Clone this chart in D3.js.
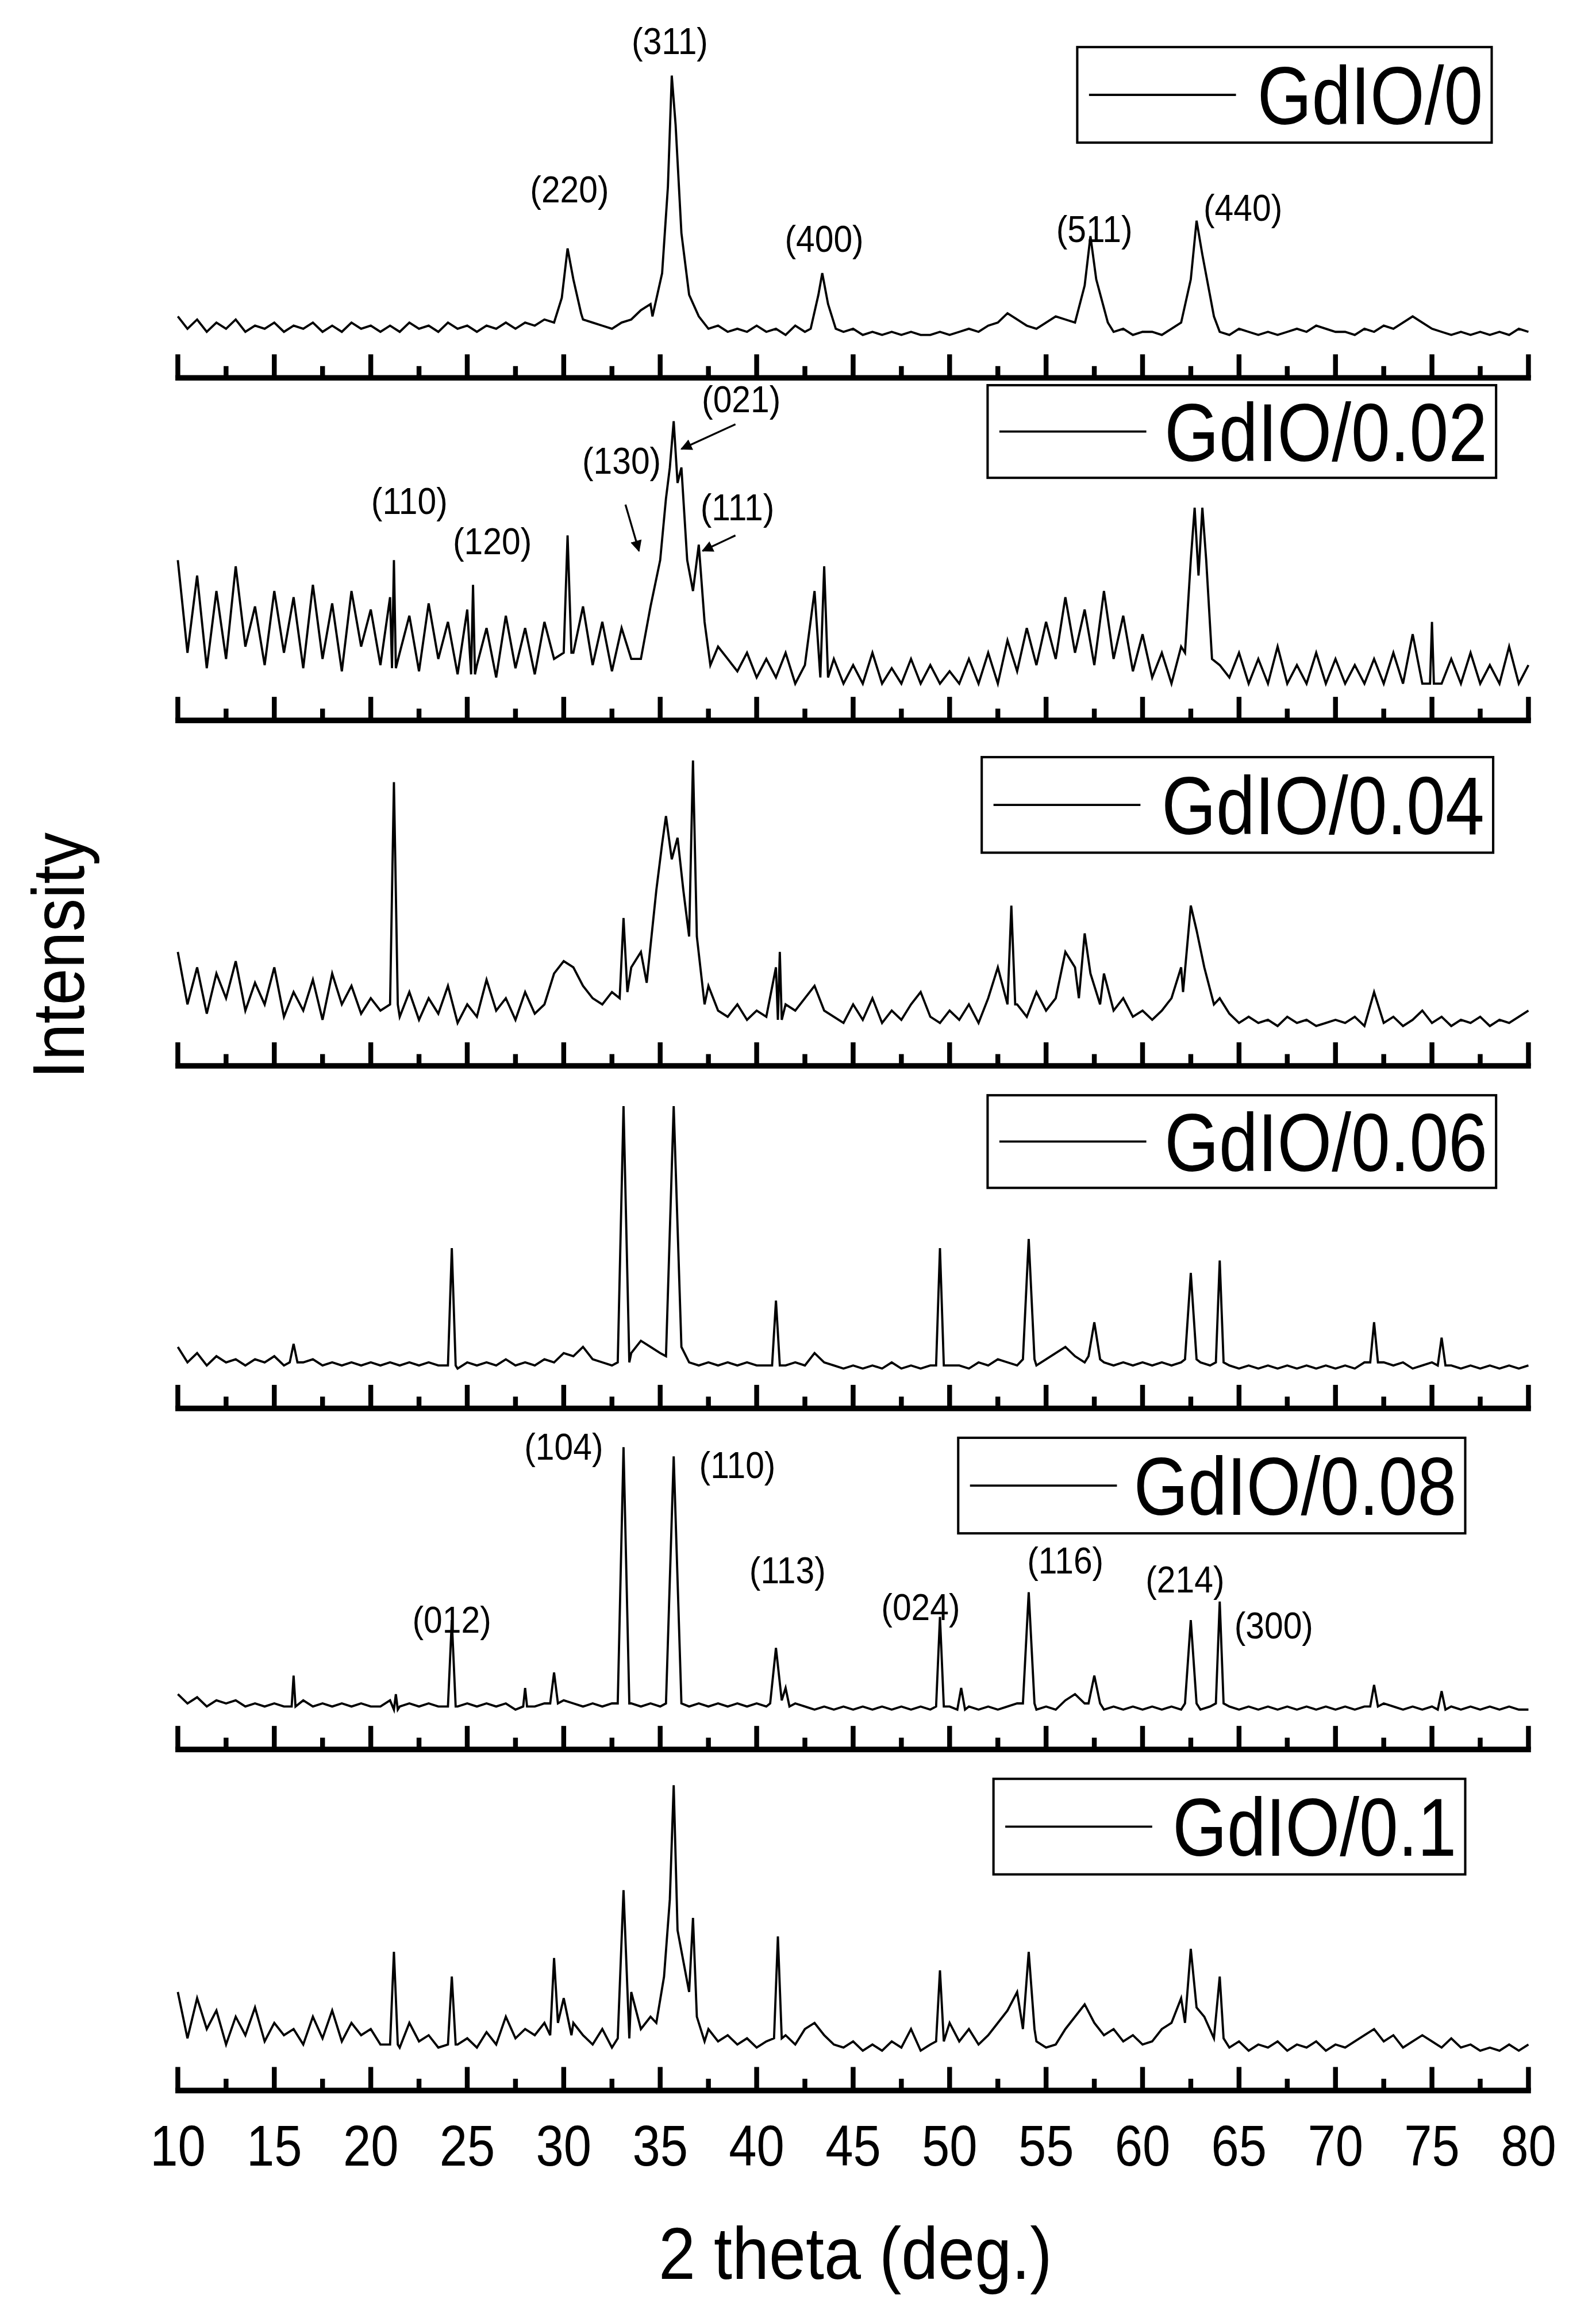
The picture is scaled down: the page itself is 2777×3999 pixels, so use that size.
<!DOCTYPE html>
<html>
<head>
<meta charset="utf-8">
<script src="https://cdn.jsdelivr.net/npm/d3@7"></script>
<style>
body { margin: 0; background: #fff; }
text { font-family: "Liberation Sans", Arial, sans-serif; fill: #000; }
</style>
</head>
<body>
<svg id="chart"></svg>
<script>
// background profile, 10..80 step 0.5
var bg1 = [8,4,7,3,6,4,7,3,5,4,6,3,5,4,6,3,5,3,6,4,5,
    3,5,3,6,4,5,3,6,4,5,3,5,4,6,4,6,5,7,6,5,
    9,7,6,5,4,6,7,10,12,9,6,5,4,6,4,5,3,4,3,5,
    3,4,2,5,3,6,8,5,3,4,2,3,2,3,2,3,2,2,3,2,
    3,4,3,5,6,9,7,5,4,6,8,7,5,4,3,5,3,4,2,3,
    3,2,4,5,8,7,4,3,2,4,3,2,3,2,3,4,3,5,4,3,
    3,2,4,3,5,4,6,8,6,4,3,2,3,2,3,2,3,2,4,3];
var bg2 = [40,10,35,5,30,8,38,12,25,6,30,10,28,5,32,8,26,4,30,12,24,
    6,28,10,22,4,26,8,20,3,24,6,18,2,22,5,18,3,20,8,30,
    10,25,6,20,4,18,8,28,30,40,45,40,30,25,20,12,8,4,10,2,
    8,2,10,0,6,30,4,8,0,6,0,10,0,5,0,8,0,6,0,4,
    0,8,0,10,0,14,4,18,6,20,8,28,10,24,6,30,8,22,4,16,
    2,10,0,12,8,20,10,6,2,10,0,8,0,12,0,6,0,10,0,8,
    0,6,0,8,0,10,0,16,0,6,0,8,0,10,0,6,0,12,0,6];
var bg3 = [25,8,20,5,18,10,22,6,15,8,20,4,12,6,16,3,18,8,14,5,10,
    6,8,4,12,3,10,5,14,2,8,4,16,6,10,3,12,5,8,18,22,
    20,14,10,8,12,30,20,25,30,40,50,45,40,25,14,6,4,8,3,6,
    4,20,8,6,10,14,6,4,2,8,3,10,2,6,3,8,12,4,2,6,
    3,8,2,10,20,15,8,4,12,6,10,25,20,14,8,18,6,10,4,6,
    3,6,10,20,25,30,20,10,5,2,4,2,3,1,4,2,3,1,2,3,
    2,4,1,12,2,4,1,3,6,2,4,1,3,2,4,1,3,2,4,6];
var bg4 = [8,3,6,2,5,3,4,2,4,3,5,2,8,3,4,2,3,2,3,2,3,
    2,3,2,3,2,3,2,3,1,3,2,3,2,4,2,3,2,4,3,6,
    5,8,4,3,2,4,6,10,8,6,5,4,3,2,3,2,3,2,3,2,
    2,3,2,3,2,6,3,2,1,2,1,2,1,3,1,2,1,2,1,2,
    2,1,3,2,4,3,2,3,2,4,6,8,5,3,2,3,2,3,2,3,
    2,3,2,3,2,3,2,3,2,1,2,1,2,1,2,1,2,1,2,1,
    2,1,3,2,3,2,3,1,2,3,4,2,1,2,1,2,1,2,1,2];
var bg5 = [6,3,5,2,4,3,4,2,3,2,3,2,3,4,2,3,2,3,2,3,2,
    2,4,2,3,2,3,2,3,2,3,2,3,2,3,1,6,2,3,3,4,
    3,2,3,2,3,2,3,2,3,2,3,2,2,3,2,3,2,3,2,3,
    2,3,6,3,2,1,2,1,2,1,2,1,2,1,2,1,2,1,3,2,
    3,2,1,2,1,2,3,2,1,2,1,4,6,3,2,1,2,1,2,1,
    2,1,2,1,2,1,2,1,2,1,2,1,2,1,2,1,2,1,2,1,
    2,1,2,1,3,2,1,2,1,2,4,2,1,2,1,2,1,2,1,1];
var bg6 = [20,5,18,8,14,3,12,6,15,4,10,6,8,3,12,5,14,4,10,6,8,
    3,8,2,10,4,6,2,8,3,5,2,7,3,12,5,8,6,10,8,14,
    10,6,3,8,2,10,20,8,12,20,30,25,15,10,8,4,6,3,5,2,
    4,2,6,3,8,10,6,3,2,4,1,3,1,4,2,8,1,3,6,10,
    4,8,3,6,10,14,20,8,4,2,3,8,12,16,10,6,8,4,6,3,
    4,8,10,18,20,15,10,4,2,4,1,3,2,4,1,3,2,4,1,3,
    2,4,6,8,4,6,2,4,6,4,2,5,2,3,1,2,1,3,1,3];

// peak points [2theta, intensity]
var pk1 = [
    [[29.5,6],[29.9,14],[30.2,30],[30.5,20],[30.9,9]],
    [[34.6,8],[35.1,22],[35.4,50],[35.6,86],[35.8,70],[36.1,35],[36.5,15],[37,8]],
    [[42.8,4],[43.2,15],[43.4,22],[43.7,12],[44.1,4]],
    [[56.5,6],[57,18],[57.3,34],[57.6,20],[58.2,6]],
    [[62,6],[62.5,20],[62.8,39],[63.1,28],[63.7,8]]];
var pk2 = [
    [[21.1,5],[21.2,40],[21.3,5]],
    [[25.2,3],[25.3,32],[25.4,3]],
    [[30,10],[30.2,48],[30.4,10]],
    [[34,8],[34.5,25],[35,40],[35.3,60],[35.5,70],[35.7,85],[35.9,65],[36.1,70],[36.4,40],[36.7,30],[37,45],[37.3,20],[37.6,6]],
    [[43.3,2],[43.5,38],[43.7,2]],
    [[62.2,10],[62.5,40],[62.7,57],[62.9,35],[63.1,57],[63.3,40],[63.6,8]],
    [[74.9,0],[75,20],[75.1,0]]];
var pk3 = [
    [[21,8],[21.2,80],[21.4,8]],
    [[32.9,10],[33.1,36],[33.3,12]],
    [[34.3,15],[34.8,45],[35.1,60],[35.3,69],[35.6,55],[35.9,62],[36.2,45],[36.5,30],[36.7,87],[36.9,30],[37.3,8]],
    [[41.1,3],[41.2,25],[41.3,3]],
    [[53,8],[53.2,40],[53.4,8]],
    [[56.7,10],[57,31],[57.3,18],[57.8,8]],
    [[62.1,12],[62.5,40],[62.8,32],[63.2,20],[63.7,8]]];
var pk4 = [
    [[15.8,3],[16,9],[16.2,3]],
    [[24,2],[24.2,40],[24.4,2]],
    [[32.8,3],[33.1,86],[33.4,3]],
    [[35.3,5],[35.7,86],[36.1,8]],
    [[40.8,2],[41,23],[41.2,2]],
    [[49.3,2],[49.5,40],[49.7,2]],
    [[53.8,4],[54.1,43],[54.4,4]],
    [[57.2,5],[57.5,16],[57.8,4]],
    [[62.2,4],[62.5,32],[62.8,4]],
    [[63.8,3],[64,36],[64.2,3]],
    [[71.8,3],[72,16],[72.2,3]],
    [[75.3,2],[75.5,11],[75.7,2]]];
var pk5 = [
    [[15.9,2],[16,12],[16.1,2]],
    [[21.2,1],[21.3,6],[21.4,1]],
    [[24,2],[24.2,30],[24.4,2]],
    [[27.9,2],[28,8],[28.1,2]],
    [[29.3,3],[29.5,13],[29.7,3]],
    [[32.8,3],[33.1,86],[33.4,3]],
    [[35.3,3],[35.7,83],[36.1,3]],
    [[40.7,3],[41,21],[41.3,4],[41.5,8],[41.7,2]],
    [[49.3,2],[49.5,31],[49.7,2]],
    [[50.4,1],[50.6,8],[50.8,1]],
    [[53.8,3],[54.1,39],[54.4,3]],
    [[57.2,3],[57.5,12],[57.8,3]],
    [[62.2,3],[62.5,30],[62.8,3]],
    [[63.8,3],[64,36],[64.2,3]],
    [[71.8,2],[72,9],[72.2,2]],
    [[75.3,1],[75.5,7],[75.7,1]]];
var pk6 = [
    [[21,3],[21.2,33],[21.4,3]],
    [[24,3],[24.2,25],[24.4,3]],
    [[29.3,6],[29.5,31],[29.7,10],[30,18],[30.4,6]],
    [[32.8,5],[33.1,53],[33.4,5]],
    [[34.8,10],[35.2,25],[35.5,50],[35.7,87],[35.9,40],[36.2,30],[36.5,20],[36.7,44],[36.9,12],[37.3,4]],
    [[40.9,5],[41.1,38],[41.3,5]],
    [[49.3,4],[49.5,27],[49.7,4]],
    [[53.8,8],[54.1,33],[54.4,8]],
    [[62.2,10],[62.5,34],[62.8,15],[63.2,12],[63.7,5],[64,25],[64.2,5]]];

var names = ["GdIO/0", "GdIO/0.02", "GdIO/0.04", "GdIO/0.06", "GdIO/0.08", "GdIO/0.1"];
var backgrounds = [bg1, bg2, bg3, bg4, bg5, bg6];
var peaks = [pk1, pk2, pk3, pk4, pk5, pk6];
var xTicks = d3.range(10, 81, 5);

// hkl labels: [panel, text, 2theta, intensity]
var labels = [
    [0,"(311)",35.5,93],[0,"(220)",30.3,45],[0,"(400)",43.5,29],[0,"(511)",57.5,32],[0,"(440)",65.2,39],
    [1,"(021)",39.2,88],[1,"(130)",33.0,68],[1,"(110)",22.0,55],[1,"(120)",26.3,42],[1,"(111)",39.0,53],
    [4,"(104)",30.0,82],[4,"(110)",39.0,76],[4,"(113)",41.6,42],[4,"(024)",48.5,30],[4,"(116)",56.0,45],
    [4,"(214)",62.2,39],[4,"(012)",24.2,26],[4,"(300)",66.8,24]];
// arrows: [panel, from 2theta, from intensity, to 2theta, to intensity]
var arrowList = [[1,38.9,84,36.1,76],[1,38.9,48,37.2,43],[1,33.2,58,33.9,43]];

var W = 1080, H = 1555.2;
var svg = d3.select("#chart")
    .attr("width", 2777).attr("height", 3999)
    .attr("viewBox", "0 0 " + W + " " + H);
var root = svg.append("g").attr("transform", "scale(0.9945)");

var x = d3.scaleLinear().domain([10, 80]).range([121, 1040]);
var axisY = [257, 490, 725, 958, 1190, 1422];
var legendBox = [[733,32,282,65],[672,262,346,63],[668,515,348,65],[672,745,346,63],[652,978,345,65],[676,1210,321,65]];

function addText(parent, tx, ty, str, size, sx, anchor) {
    return parent.append("text")
        .attr("transform", "translate(" + tx + "," + ty + ") scale(" + sx + ",1)")
        .attr("text-anchor", anchor || "middle").attr("font-size", size).text(str);
}

function buildSeries(bg, pk) {
    var pts = [];
    var ranges = pk.map(function (p) { return [p[0][0], p[p.length - 1][0]]; });
    bg.forEach(function (v, i) {
        var t = 10 + i * 0.5;
        var inside = ranges.some(function (r) { return t >= r[0] && t <= r[1]; });
        if (!inside) pts.push([t, v]);
    });
    pk.forEach(function (p) { p.forEach(function (q) { pts.push(q); }); });
    pts.sort(function (a, b) { return a[0] - b[0]; });
    return pts;
}

var yScales = [];
axisY.forEach(function (ay, k) {
    var y = d3.scaleLinear().domain([0, 100]).range([ay - 25, ay - 235]);
    yScales.push(y);
    var g = root.append("g");

    g.append("path")
        .datum(buildSeries(backgrounds[k], peaks[k]))
        .attr("fill", "none").attr("stroke", "#000").attr("stroke-width", 1.5)
        .attr("d", d3.line().x(function (d) { return x(d[0]); }).y(function (d) { return y(d[1]); }));

    // axis with upward ticks
    var ax = g.append("g").attr("transform", "translate(0," + ay + ")");
    ax.append("line").attr("x1", x(10) - 1.7).attr("x2", x(80) + 1.7)
        .attr("stroke", "#000").attr("stroke-width", 3.8);
    ax.selectAll(".maj").data(xTicks).enter().append("line")
        .attr("x1", x).attr("x2", x).attr("y1", 0).attr("y2", -16)
        .attr("stroke", "#000").attr("stroke-width", 3.3);
    ax.selectAll(".min").data(d3.range(12.5, 80, 5)).enter().append("line")
        .attr("x1", x).attr("x2", x).attr("y1", 0).attr("y2", -8)
        .attr("stroke", "#000").attr("stroke-width", 3.3);

    // legend
    var lb = legendBox[k];
    g.append("rect").attr("x", lb[0]).attr("y", lb[1]).attr("width", lb[2]).attr("height", lb[3])
        .attr("fill", "#fff").attr("stroke", "#000").attr("stroke-width", 1.6);
    g.append("line").attr("x1", lb[0] + 8).attr("x2", lb[0] + 108)
        .attr("y1", lb[1] + lb[3] / 2).attr("y2", lb[1] + lb[3] / 2)
        .attr("stroke", "#000").attr("stroke-width", 1.5);
    addText(g, lb[0] + lb[2] - 6, lb[1] + lb[3] / 2 + 20, names[k], 56, 0.85, "end");
});

// tick labels on the bottom axis
xTicks.forEach(function (t) { addText(root, x(t), 1473, t, 39, 0.87); });

addText(root, 582, 1550, "2 theta (deg.)", 50, 0.9);
root.append("text").attr("transform", "translate(57,650) rotate(-90) scale(0.9,1)")
    .attr("text-anchor", "middle").attr("font-size", 50).text("Intensity");

labels.forEach(function (l) {
    addText(root, x(l[2]), yScales[l[0]](l[3]), l[1], 25, 0.92);
});

svg.append("defs").append("marker").attr("id", "ah")
    .attr("viewBox", "0 0 10 10").attr("refX", 9).attr("refY", 5)
    .attr("markerWidth", 6).attr("markerHeight", 6).attr("orient", "auto")
    .append("path").attr("d", "M0,0 L10,5 L0,10 z").attr("fill", "#000");
arrowList.forEach(function (a) {
    var y = yScales[a[0]];
    root.append("line").attr("x1", x(a[1])).attr("y1", y(a[2])).attr("x2", x(a[3])).attr("y2", y(a[4]))
        .attr("stroke", "#000").attr("stroke-width", 1.3).attr("marker-end", "url(#ah)");
});
</script>
</body>
</html>
